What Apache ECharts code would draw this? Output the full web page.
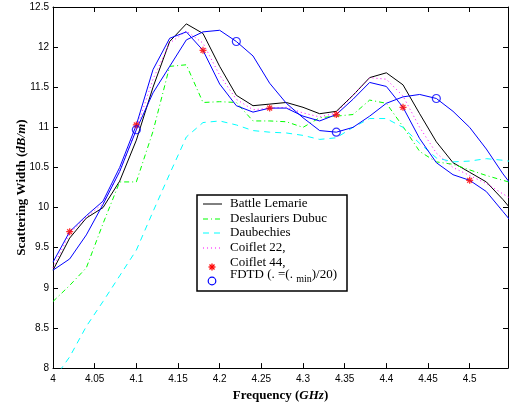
<!DOCTYPE html>
<html>
<head>
<meta charset="utf-8">
<script src="https://cdn.jsdelivr.net/npm/echarts@6/dist/echarts.min.js"></script>
<style>
  html, body { margin: 0; padding: 0; background: #fff; }
  #chart { width: 509px; height: 407px; }
</style>
</head>
<body>
<div id="chart"></div>
<script>
// frequency samples (GHz), step 0.02
var freq = [4.00, 4.02, 4.04, 4.06, 4.08, 4.10, 4.12, 4.14, 4.16, 4.18,
            4.20, 4.22, 4.24, 4.26, 4.28, 4.30, 4.32, 4.34, 4.36, 4.38,
            4.40, 4.42, 4.44, 4.46, 4.48, 4.50, 4.52, 4.54, 4.56];

var battleLemarie = [9.22, 9.62, 9.87, 10.0, 10.33, 10.84, 11.5, 12.07, 12.29, 12.17,
                     11.76, 11.4, 11.27, 11.29, 11.31, 11.25, 11.17, 11.2, 11.4, 11.62,
                     11.68, 11.53, 11.17, 10.82, 10.56, 10.44, 10.32, 10.1, 9.85];

var deslauriersDubuc = [8.83, 9.03, 9.25, 9.8, 10.32, 10.32, 10.95, 11.76, 11.78, 11.31,
                        11.32, 11.31, 11.08, 11.08, 11.07, 11.0, 11.12, 11.14, 11.16, 11.34,
                        11.3, 11.01, 10.7, 10.57, 10.54, 10.47, 10.4, 10.34, 10.28];

var daubechies = [7.85, 8.14, 8.52, 8.83, 9.15, 9.47, 9.95, 10.42, 10.88, 11.06,
                  11.08, 11.03, 10.96, 10.94, 10.93, 10.9, 10.85, 10.87, 11.0, 11.11,
                  11.11, 11.0, 10.8, 10.62, 10.57, 10.58, 10.61, 10.59, 10.56];

var coiflet22 = [9.25, 9.68, 9.88, 10.05, 10.45, 10.98, 11.6, 12.05, 12.2, 12.05,
                 11.65, 11.35, 11.22, 11.24, 11.25, 11.18, 11.13, 11.18, 11.4, 11.62,
                 11.6, 11.39, 11.0, 10.68, 10.5, 10.4, 10.3, 10.17, 10.05];

var coiflet44 = [9.32, 9.7, 9.9, 10.08, 10.5, 11.03, 11.72, 12.11, 12.19, 11.96,
                 11.54, 11.27, 11.19, 11.24, 11.24, 11.14, 11.08, 11.16, 11.35, 11.56,
                 11.51, 11.25, 10.86, 10.56, 10.41, 10.34, 10.2, 9.95, 9.7];

var fdtd = [9.22, 9.36, 9.66, 10.04, 10.45, 10.97, 11.43, 11.76, 12.09, 12.19,
            12.21, 12.07, 11.89, 11.55, 11.3, 11.12, 10.96, 10.94, 11.0, 11.14,
            11.3, 11.38, 11.41, 11.36, 11.2, 11.0, 10.73, 10.42, 10.15];

// marker positions (every 4th / 6th sample)
var starIdx = [1, 5, 9, 13, 17, 21, 25];
var circleIdx = [5, 11, 17, 23];

var legendNames = ['Battle Lemarie', 'Deslauriers Dubuc', 'Daubechies', 'Coiflet 22,', 'Coiflet 44,'];

function pairs(ys) {
  return freq.map(function (f, i) { return [f, ys[i]]; });
}
function pick(ys, idx) {
  return idx.map(function (i) { return [freq[i], ys[i]]; });
}

var chart = echarts.init(document.getElementById('chart'));

var sansLabel = { fontFamily: 'Liberation Sans', fontSize: 10, color: '#000' };
var serifName = {
  fontFamily: 'Liberation Serif', fontSize: 13, fontWeight: 'bold', color: '#000',
  rich: {
    b: { fontFamily: 'Liberation Serif', fontSize: 13, fontWeight: 'bold', color: '#000' },
    i: { fontFamily: 'Liberation Serif', fontSize: 13, fontWeight: 'bold', fontStyle: 'italic', color: '#000' }
  }
};

var xBase = {
  type: 'value', min: 4, max: 4.546, interval: 0.05,
  axisLine: { lineStyle: { color: '#000', width: 1 } },
  axisTick: { inside: true, length: 5, lineStyle: { color: '#000' } },
  splitLine: { show: false }
};
var yBase = {
  type: 'value', min: 8, max: 12.5, interval: 0.5,
  axisLine: { lineStyle: { color: '#000', width: 1 } },
  axisTick: { inside: true, length: 5, lineStyle: { color: '#000' } },
  splitLine: { show: false }
};

// legend drawn by hand (MATLAB style box)
var lx = 197, ly = 195;
var rowY = [204, 219, 233, 248, 263, 275];
function seg(x1, y1, x2, y2, style) {
  return { type: 'line', shape: { x1: x1, y1: y1, x2: x2, y2: y2 }, style: style, z: 101 };
}
var starStyle = { stroke: '#ff0000', lineWidth: 1.3 };
var legendGraphic = [
  { type: 'rect', shape: { x: lx, y: ly, width: 150, height: 96 },
    style: { fill: '#fff', stroke: '#000', lineWidth: 1.5 }, z: 100 },
  seg(203, rowY[0], 222, rowY[0], { stroke: '#000', lineWidth: 1 }),
  seg(203, rowY[1], 222, rowY[1], { stroke: '#00ff00', lineWidth: 1, lineDash: [5, 3, 1, 3] }),
  seg(203, rowY[2], 222, rowY[2], { stroke: '#00ffff', lineWidth: 1, lineDash: [6, 5] }),
  seg(203, rowY[3], 222, rowY[3], { stroke: '#ff00ff', lineWidth: 1, lineDash: [1, 3] }),
  seg(212, 263.5, 212, 270.5, starStyle),
  seg(208.5, 267, 215.5, 267, starStyle),
  seg(209.5, 264.5, 214.5, 269.5, starStyle),
  seg(209.5, 269.5, 214.5, 264.5, starStyle),
  { type: 'circle', shape: { cx: 212, cy: 281, r: 3.8 }, style: { stroke: '#0000ff', lineWidth: 1.2, fill: 'none' }, z: 101 }
];
legendNames.forEach(function (name, i) {
  legendGraphic.push({
    type: 'text', x: 230, y: rowY[i], z: 101,
    style: { text: name, fontFamily: 'Liberation Serif', fontSize: 13, fill: '#000', verticalAlign: 'middle' }
  });
});
legendGraphic.push({
  type: 'text', x: 230, y: 275, z: 101,
  style: {
    text: '{n|FDTD (. =(. }{s|min}{n|)/20)}',
    verticalAlign: 'middle',
    rich: {
      n: { fontFamily: 'Liberation Serif', fontSize: 13, fill: '#000' },
      s: { fontFamily: 'Liberation Serif', fontSize: 10, fill: '#000', padding: [9, 0, 0, 0] }
    }
  }
});

var option = {
  animation: false,
  backgroundColor: '#fff',
  grid: { left: 53, right: 1, top: 7, bottom: 37 },
  xAxis: [
    Object.assign({}, xBase, {
      position: 'bottom',
      axisLabel: Object.assign({ margin: 6, showMaxLabel: false }, sansLabel),
      name: '{b|Frequency (}{i|GHz}{b|)}',
      nameLocation: 'middle', nameGap: 20, nameTextStyle: serifName
    }),
    Object.assign({}, xBase, { position: 'top', axisLabel: { show: false } })
  ],
  yAxis: [
    Object.assign({}, yBase, {
      position: 'left',
      axisLabel: Object.assign({ margin: 4 }, sansLabel),
      name: '{b|Scattering Width (}{i|dB/m}{b|)}',
      nameLocation: 'middle', nameGap: 25, nameMoveOverlap: false, nameTextStyle: serifName
    }),
    Object.assign({}, yBase, { position: 'right', axisLabel: { show: false } })
  ],
  graphic: legendGraphic,
  series: [
    { name: 'Battle Lemarie', type: 'line', data: pairs(battleLemarie), symbol: 'none',
      lineStyle: { color: '#000', width: 1 } },
    { name: 'Deslauriers Dubuc', type: 'line', data: pairs(deslauriersDubuc), symbol: 'none',
      lineStyle: { color: '#00ff00', width: 1, type: [5, 3, 1, 3] } },
    { name: 'Daubechies', type: 'line', data: pairs(daubechies), symbol: 'none',
      lineStyle: { color: '#00ffff', width: 1, type: [6, 5] } },
    { name: 'Coiflet 22', type: 'line', data: pairs(coiflet22), symbol: 'none',
      lineStyle: { color: '#ff00ff', width: 1, type: [1, 3] } },
    { name: 'Coiflet 44', type: 'line', data: pairs(coiflet44), symbol: 'none',
      lineStyle: { color: '#0000ff', width: 1 } },
    { name: 'FDTD', type: 'line', data: pairs(fdtd), symbol: 'none',
      lineStyle: { color: '#0000ff', width: 1 } },
    { name: 'Coiflet 44 marks', type: 'scatter', data: pick(coiflet44, starIdx),
      symbol: 'path://M5,0L5,10M0,5L10,5M1.5,1.5L8.5,8.5M1.5,8.5L8.5,1.5', symbolSize: 7,
      itemStyle: { color: 'none', borderColor: '#ff0000', borderWidth: 1.3 }, z: 5 },
    { name: 'FDTD marks', type: 'scatter', data: pick(fdtd, circleIdx),
      symbol: 'circle', symbolSize: 8,
      itemStyle: { color: 'none', borderColor: '#0000ff', borderWidth: 1.2 }, z: 5 }
  ]
};

chart.setOption(option);
</script>
</body>
</html>
